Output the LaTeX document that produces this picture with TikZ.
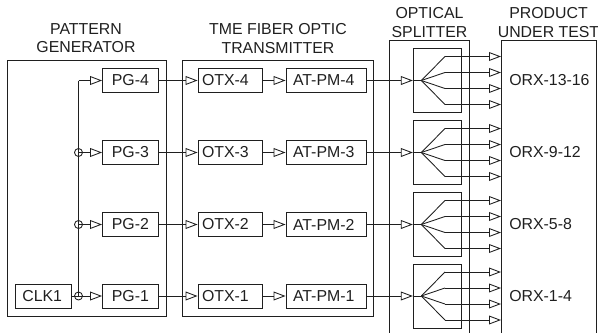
\documentclass[tikz,border=0pt]{standalone}
\usepackage{fontspec}
\setmainfont{Liberation Sans}
\usetikzlibrary{arrows.meta}
\definecolor{ink}{gray}{0.12}
\tikzset{
  x=0.75pt,y=-0.75pt,
  line/.style={draw=ink,line width=0.65pt},
  frame/.style={draw=ink,line width=0.75pt},
  tri/.style={line,-{Triangle[open,length=9pt,width=6.6pt,line width=0.65pt]}},
  txt/.style={text=ink,font=\fontsize{11.9}{13.6}\selectfont,inner sep=0pt},
  head/.style={txt,align=center},
  box/.style={line,txt,minimum height=18pt,anchor=center,align=left},
  pgbox/.style={box,text width=28pt,inner xsep=7pt},
  otxbox/.style={box,text width=42pt,inner xsep=3pt},
  atbox/.style={box,text width=49.5pt,inner xsep=5.25pt},
  clkbox/.style={box,text width=31pt,inner xsep=5.5pt},
  split/.style={line,minimum width=36.3pt,minimum height=48pt,inner sep=0pt},
  junction/.style={line,circle,minimum size=6pt,inner sep=0pt},
  rxlabel/.style={txt,anchor=west}
}
\begin{document}
\begin{tikzpicture}
\useasboundingbox (0,0) rectangle (598,332);
\clip (0,0) rectangle (598,332);
% enclosures
\draw[frame] (7,60.5) rectangle (166,316);
\draw[frame] (182,60.5) rectangle (373.7,316);
\draw[frame] (389.7,333) -- (389.7,40.5) -- (469,40.5) -- (469,333);
\draw[frame] (501,333) -- (501,40.5) -- (596,40.5) -- (596,333);
% headings
\node[head] (h1) at (86,38.5) {PATTERN\\GENERATOR};
\node[head] (h2) at (278,38.5) {TME FIBER OPTIC\\TRANSMITTER};
\node[head] (h3) at (429.5,22.5) {OPTICAL\\SPLITTER};
\node[head] (h4) at (548.5,22.5) {PRODUCT\\UNDER TEST};
% clock
\node[clkbox] (clk) at (43,296) {CLK1};
\coordinate (bustop) at (78.5,80.5);
\node[junction] (j3) at (78.5,152.5) {};
\node[junction] (j2) at (78.5,224.5) {};
\node[junction] (j1) at (78.5,296) {};
% rows
\foreach \n/\y/\rx in {4/80.5/ORX-13-16,3/152.5/ORX-9-12,2/224.5/ORX-5-8,1/296/ORX-1-4}{
  \node[pgbox] (pg\n) at (130.5,\y) {PG-\n};
  \node[otxbox] (otx\n) at (230,\y) {OTX-\n};
  \node[atbox] (at\n) at (326,\y) {AT-PM-\n};
  \node[split] (sp\n) at (437.5,\y) {};
  \node[rxlabel] (rx\n) at (509,\y) {\rx};
  \coordinate (fan\n) at (421.3,\y);
  \draw[tri] (pg\n.east) -- (otx\n.west);
  \draw[tri] (otx\n.east) -- (at\n.west);
  \draw[tri] (at\n.east) -- (sp\n.west);
  \draw[line] (sp\n.west) -- (fan\n);
  \foreach \k/\d in {a/-24,b/-8,c/8,d/24}{
    \coordinate (el\n\k) at (445,\y+\d);
    \coordinate (in\n\k) at (501,\y+\d);
    \draw[line] (fan\n) -- (el\n\k);
    \draw[tri] (el\n\k) -- (in\n\k);
  }
}
% clock distribution
\draw[line] (bustop) -- (j1.center);
\draw[tri] (bustop) -- (pg4.west);
\draw[tri] (j3.center) -- (pg3.west);
\draw[tri] (j2.center) -- (pg2.west);
\draw[line] (clk.east) -- (j1.center);
\draw[tri] (j1.center) -- (pg1.west);
\end{tikzpicture}
\end{document}
